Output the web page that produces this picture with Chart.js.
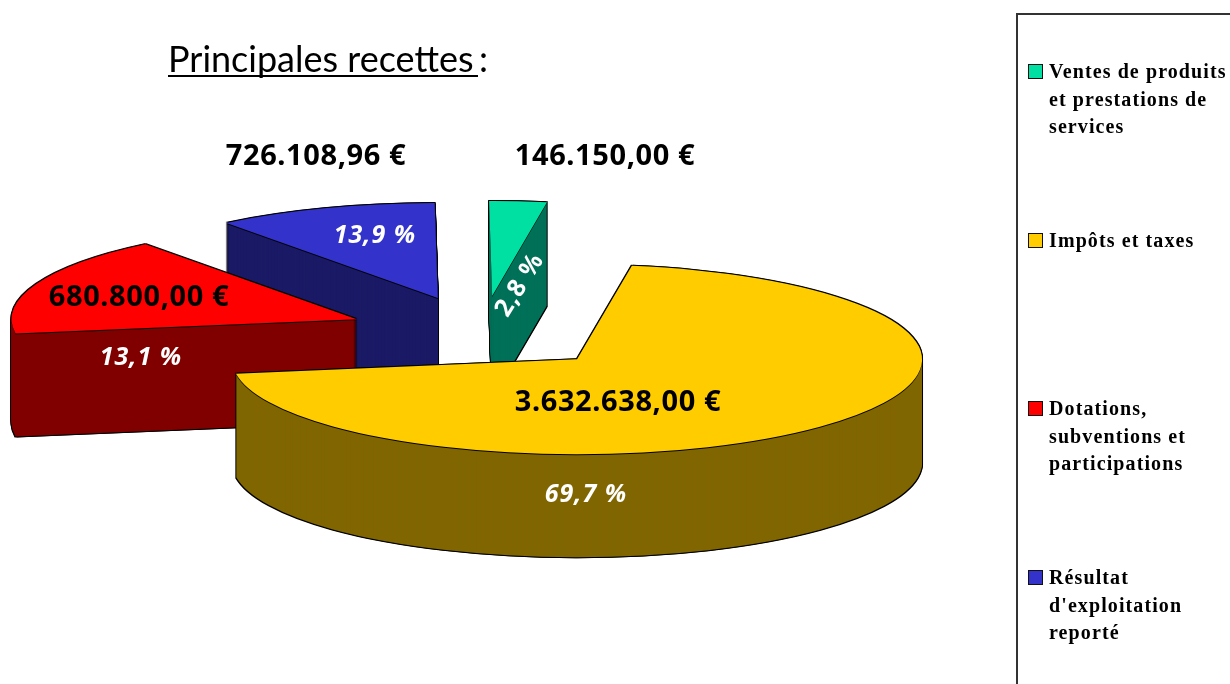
<!DOCTYPE html>
<html>
<head>
<meta charset="utf-8">
<style>
body { margin: 0; background: #fff; overflow: hidden; }
</style>
<script src="https://cdn.jsdelivr.net/npm/chart.js@4"></script>
</head>
<body>
<canvas id="recettesChart" width="1230" height="684"></canvas>
<script>
// Data, in legend order

const categories = [
  ["Ventes de produits", "et prestations de", "services"],
  ["Impôts et taxes"],
  ["Dotations,", "subventions et", "participations"],
  ["Résultat", "d'exploitation", "reporté"]
];
const amounts = [146150.00, 3632638.00, 680800.00, 726108.96];
const amountLabels = ["146.150,00 €", "3.632.638,00 €", "680.800,00 €", "726.108,96 €"];
const percentLabels = ["2,8 %", "69,7 %", "13,1 %", "13,9 %"];

// Colours

const topColors = ["#00e0a3", "#ffcc00", "#ff0000", "#3333cc"];
const sideColors = ["#007058", "#806600", "#800000", "#1a1a66"];

// 3D look

const FLATTEN = 0.275;
const DEPTH = 103;
const EXPLODE = 135;
const WARP = 14 * Math.PI / 180;
const paintOrder = [3, 0, 2, 1];

function warp(angle) {
  // the back left of the pie is squeezed, as in the perspective of the original
  return angle + WARP * Math.max(0, -Math.sin(2 * (angle + Math.PI / 2)));
}

class Pie3DController extends Chart.PieController {
  draw() {
    const ctx = this.chart.ctx;
    const arcs = this._cachedMeta.data;

    paintOrder.forEach(i => {
      const arc = arcs[i];
      const start = arc.startAngle, end = arc.endAngle, circ = arc.circumference, opts = arc.options;
      arc.startAngle = warp(start);
      arc.endAngle = warp(end);
      arc.circumference = arc.endAngle - arc.startAngle;

      const mid = (arc.startAngle + arc.endAngle) / 2;
      const ox = Math.cos(mid) * EXPLODE;
      const oy = Math.sin(mid) * EXPLODE * FLATTEN;

      const stamp = (color, dx, dy) => {
        arc.options = Object.assign({}, opts, { backgroundColor: color, borderWidth: 0 });
        ctx.save();
        ctx.translate(arc.x + ox + dx, arc.y + oy + dy);
        ctx.scale(1, FLATTEN);
        ctx.translate(-arc.x, -arc.y);
        arc.draw(ctx);
        ctx.restore();
      };

      for (let d = -1; d <= DEPTH + 1; d++) {
        stamp("#000", -1, d);
        stamp("#000", 1, d);
      }
      for (let d = DEPTH; d >= 1; d--) {
        stamp(sideColors[i], 0, d);
      }
      stamp("#000", 0, 1);
      stamp(topColors[i], 0, 0);

      arc.startAngle = start;
      arc.endAngle = end;
      arc.circumference = circ;
      arc.options = opts;
    });
  }
}
Pie3DController.id = "pie3d";
Chart.register(Pie3DController);

// Title, value labels and legend

const textPlugin = {
  id: "recettesText",
  afterDraw(chart) {
    const ctx = chart.ctx;
    ctx.save();

    // title
    ctx.fillStyle = "#000";
    ctx.textAlign = "left";
    ctx.textBaseline = "alphabetic";
    ctx.font = "36px Lato";
    ctx.fillText("Principales recettes", 168, 72);
    ctx.fillText(":", 479, 72);
    ctx.fillRect(168, 75, 310, 2);

    // amounts
    ctx.textAlign = "center";
    ctx.textBaseline = "middle";
    ctx.font = "bold 29px 'Noto Sans'";
    ctx.letterSpacing = "0.6px";
    [[605, 157], [618, 403], [139, 298], [316, 157]].forEach((p, i) => {
      ctx.fillText(amountLabels[i], p[0], p[1]);
    });

    // percentages
    ctx.fillStyle = "#fff";
    ctx.font = "italic bold 25px 'Noto Sans'";
    ctx.letterSpacing = "1px";
    ctx.fillText(percentLabels[1], 586, 495);
    ctx.fillText(percentLabels[2], 141, 358);
    ctx.fillText(percentLabels[3], 375, 236);
    ctx.save();
    ctx.translate(520, 285);
    ctx.rotate(-58 * Math.PI / 180);
    ctx.font = "bold 25px 'Noto Sans'";
    ctx.fillText(percentLabels[0], 0, 0);
    ctx.restore();

    // legend
    ctx.strokeStyle = "#333";
    ctx.lineWidth = 2;
    ctx.strokeRect(1017, 14, 400, 800);
    ctx.textAlign = "left";
    ctx.font = "bold 20px 'Liberation Serif'";
    ctx.letterSpacing = "1.1px";
    const legendY = [72, 241, 409, 578];
    categories.forEach((lines, i) => {
      ctx.fillStyle = topColors[i];
      ctx.fillRect(1029, legendY[i] - 7, 13, 13);
      ctx.strokeStyle = "#111";
      ctx.lineWidth = 1;
      ctx.strokeRect(1028.5, legendY[i] - 7.5, 14, 14);
      ctx.fillStyle = "#000";
      lines.forEach((line, j) => {
        ctx.fillText(line, 1049, legendY[i] + 1 + j * 27.5);
      });
    });
    ctx.restore();
  }
};

new Chart(
document.getElementById("recettesChart"),
{
type: "pie3d",
data: {
  labels: categories.map(c => c.join(" ")),
  datasets: [{
    data: amounts,
    backgroundColor: topColors,
    borderWidth: 0,
    radius: 345,
    cutout: 0,
    clip: false
  }]
},
options: {
  responsive: false,
  animation: false,
  events: [],
  rotation: -1,
  layout: { padding: { left: 0, right: 266, top: 0, bottom: 18 } },
  plugins: { legend: { display: false }, tooltip: { enabled: false } }
},
plugins: [textPlugin]
}
);
</script>
</body>
</html>
